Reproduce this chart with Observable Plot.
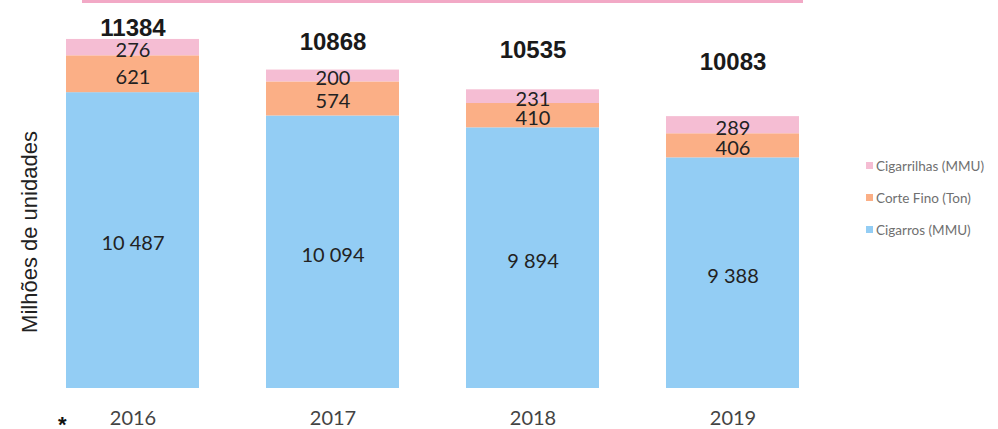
<!DOCTYPE html>
<html><head><meta charset="utf-8">
<script src="https://cdn.jsdelivr.net/npm/d3@7"></script>
<script src="https://cdn.jsdelivr.net/npm/@observablehq/plot@0.6"></script>
<style>
body{margin:0;background:#fff;}
#wrap{position:relative;width:998px;height:429px;overflow:hidden;font-family:Lato,sans-serif;}
#wrap > svg{position:absolute;left:0;top:0;}
.abs{position:absolute;white-space:nowrap;}
</style></head><body><div id="wrap"></div>
<script>
const years = ["2016","2017","2018","2019"];
const seriesNames = ["Cigarros (MMU)","Corte Fino (Ton)","Cigarrilhas (MMU)"];
const cigarros = [10487,10094,9894,9388];
const corteFino = [621,574,410,406];
const cigarrilhas = [276,200,231,289];
const totals = [11384,10868,10535,10083];
const colors = ["#93CDF4","#FBAF86","#F5BDD3"];
const yLabel = "Milhões de unidades";
const note = "*";

const yDomain = [5500, 11400];
const totalsDomain = [-2630, 11005];

const seriesValues = [cigarros, corteFino, cigarrilhas];
const rows = [];
years.forEach((yr, i) => {
  let acc = 0;
  seriesValues.forEach((arr, j) => {
    const v = arr[i];
    rows.push({year: yr, series: seriesNames[j], value: v, y1: acc, y2: acc + v,
      mid: (Math.max(acc, yDomain[0]) + acc + v) / 2});
    acc += v;
  });
});
const fmt = d3.formatLocale({decimal: ",", thousands: " ", grouping: [3], currency: ["", ""]}).format(",");

const wrap = document.getElementById("wrap");
const common = {width: 998, height: 429, marginTop: 38, marginBottom: 41, marginLeft: 0, marginRight: 0,
  style: {background: "transparent", fontFamily: "Lato, sans-serif", overflow: "visible"}};
const xScale = {type: "band", domain: years, range: [-1, 866], padding: 0.335, label: null};

const main = Plot.plot({
  ...common,
  x: xScale,
  y: {domain: yDomain, clamp: true, axis: null},
  color: {domain: seriesNames, range: colors},
  marks: [
    Plot.barY(rows, {x: "year", y1: "y1", y2: "y2", fill: "series"}),
    Plot.text(rows, {x: "year", y: "mid", dy: 3, text: d => fmt(d.value), fontSize: 20, fill: "#222"}),
    Plot.axisX({tickSize: 0, tickPadding: 22, fontSize: 20, color: "#444", label: null})
  ]
});
wrap.appendChild(main);

const totalsPlot = Plot.plot({
  ...common,
  x: {...xScale, axis: null},
  y: {domain: totalsDomain, axis: null},
  marks: [
    Plot.text(totals.map((t, i) => ({year: years[i], total: t})),
      {x: "year", y: "total", text: d => String(d.total), fontSize: 24, fontWeight: "bold",
       fontFamily: "Liberation Sans, Arial, sans-serif", fill: "#1a1a1a"})
  ]
});
wrap.appendChild(totalsPlot);

// decorative pink border (cut-off box at top)
const line = document.createElement("div");
line.className = "abs";
Object.assign(line.style, {left: "82px", top: "0px", width: "721px", height: "3px", background: "#F2A9C6"});
wrap.appendChild(line);

// y label
const yl = document.createElement("div");
yl.className = "abs";
yl.textContent = yLabel;
Object.assign(yl.style, {left: "30px", top: "232px", transform: "translate(-50%,-50%) rotate(-90deg)",
  font: "22px 'Liberation Sans', Arial, sans-serif", color: "#222"});
wrap.appendChild(yl);

// note asterisk
const st = document.createElement("div");
st.className = "abs";
st.textContent = note;
Object.assign(st.style, {left: "58px", top: "412px", font: "bold 22px 'Liberation Sans', Arial, sans-serif", color: "#111"});
wrap.appendChild(st);

// legend
seriesNames.slice().reverse().forEach((name, k) => {
  const j = seriesNames.indexOf(name);
  const cy = 166 + k * 32;
  const sw = document.createElement("div");
  sw.className = "abs";
  Object.assign(sw.style, {left: "866px", top: (cy - 4) + "px", width: "7px", height: "7px", background: colors[j]});
  wrap.appendChild(sw);
  const tx = document.createElement("div");
  tx.className = "abs";
  tx.textContent = name;
  Object.assign(tx.style, {left: "876px", top: (cy - 9) + "px", font: "13.5px Lato, sans-serif", color: "#707070", lineHeight: "18px"});
  wrap.appendChild(tx);
});
</script>
</body></html>
